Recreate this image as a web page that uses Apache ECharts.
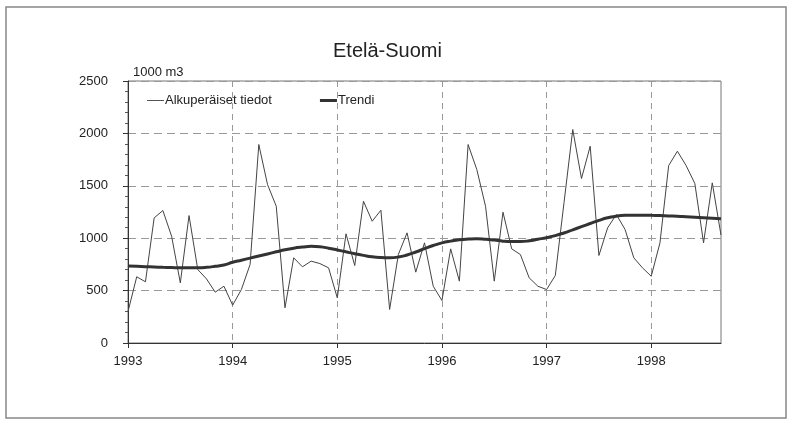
<!DOCTYPE html>
<html><head><meta charset="utf-8">
<script src="https://cdn.jsdelivr.net/npm/echarts@6/dist/echarts.min.js"></script>
<style>html,body{margin:0;padding:0;background:#fff}#c{width:790px;height:424px}</style>
</head><body><div id="c"></div>
<script>
var months = [];
for (var y = 1993; y <= 1998; y++) for (var m = 1; m <= 12; m++) months.push(y + '-' + (m < 10 ? '0' + m : m));
months = months.slice(0, 69);
var original = [300,632,584,1194,1264,1019,574,1216,701,612,485,542,
  361,510,749,1894,1512,1305,336,813,727,781,758,717,
  431,1042,739,1353,1162,1267,320,844,1051,676,956,542,
  405,898,590,1894,1655,1305,590,1248,898,844,622,542,
  510,644,1340,2037,1569,1878,835,1099,1226,1083,813,717,
  637,956,1693,1830,1693,1522,956,1528,1030];
var trend = [735,732,728,725,722,720,718,718,718,722,732,745,
  770,790,810,830,850,870,890,905,915,922,918,905,
  888,870,852,836,822,815,813,820,840,868,900,930,
  955,972,985,992,995,990,982,972,968,968,975,990,
  1005,1025,1050,1080,1110,1140,1170,1195,1210,1218,1220,1220,
  1218,1216,1213,1210,1205,1200,1195,1190,1185];
var yTicks = [0,500,1000,1500,2000,2500];
var FONT = "'Liberation Sans Narrow','Liberation Sans',Arial,sans-serif";
var thinIcon = 'path://M0,0L0.01,0M0,10L0.01,10M0,4.5L17,4.5L17,5.5L0,5.5Z';
var thickIcon = 'path://M0,0L0.01,0M0,10L0.01,10M0,3.6L17,3.6L17,6.4L0,6.4Z';
var chart = echarts.init(document.getElementById('c'), null, {renderer:'canvas'});
chart.setOption({
  backgroundColor:'#fff',
  animation:false,
  textStyle:{fontFamily:FONT},
  title:{text:'Etelä-Suomi', left:328, top:36, textStyle:{fontFamily:FONT, fontSize:20, fontWeight:'normal', color:'#222'}},
  graphic:[
    {type:'rect', shape:{x:6, y:7, width:780, height:411}, style:{fill:'none', stroke:'#888', lineWidth:1.5}, silent:true},
    {type:'text', left:133, top:66, style:{text:'1000 m3', font:'13px ' + FONT, fill:'#222'}}
  ],
  legend:{left:142, top:89, itemWidth:17, itemHeight:10, itemGap:48,
    textStyle:{fontFamily:FONT, fontSize:13, color:'#222', padding:[0,0,0,-4]},
    data:[{name:'Alkuperäiset tiedot', icon:thinIcon, itemStyle:{color:'#555'}},{name:'Trendi', icon:thickIcon, itemStyle:{color:'#333'}}]},
  grid:{left:128, right:69, top:81, bottom:81, show:true, borderColor:'#777', borderWidth:1, backgroundColor:'transparent'},
  xAxis:{type:'category', data:months, boundaryGap:false,
    axisLine:{lineStyle:{color:'#333', width:1}},
    axisTick:{interval:11, length:5, lineStyle:{color:'#333'}},
    axisLabel:{interval:11, margin:12, fontSize:13, color:'#222', fontFamily:FONT, formatter:function(v){return v.slice(0,4);}},
    splitLine:{show:true, interval:11, lineStyle:{color:'#999', type:[6,5], width:1}}},
  yAxis:{type:'value', min:yTicks[0], max:yTicks[yTicks.length-1], interval:500,
    axisLine:{show:true, lineStyle:{color:'#333', width:1}},
    axisTick:{show:true, length:5, lineStyle:{color:'#333'}},
    minorTick:{show:true, splitNumber:5, length:3, lineStyle:{color:'#555'}},
    axisLabel:{margin:20, fontSize:13, color:'#222', fontFamily:FONT, formatter:function(v){return String(v);}},
    splitLine:{show:true, lineStyle:{color:'#999', type:[8,5], width:1}}},
  series:[
    {name:'Alkuperäiset tiedot', type:'line', data:original, symbol:'none', lineStyle:{color:'#444', width:1}, itemStyle:{color:'#444'}},
    {name:'Trendi', type:'line', data:trend, symbol:'none', smooth:true, lineStyle:{color:'#333', width:3}, itemStyle:{color:'#333'}}
  ]
});
</script></body></html>
